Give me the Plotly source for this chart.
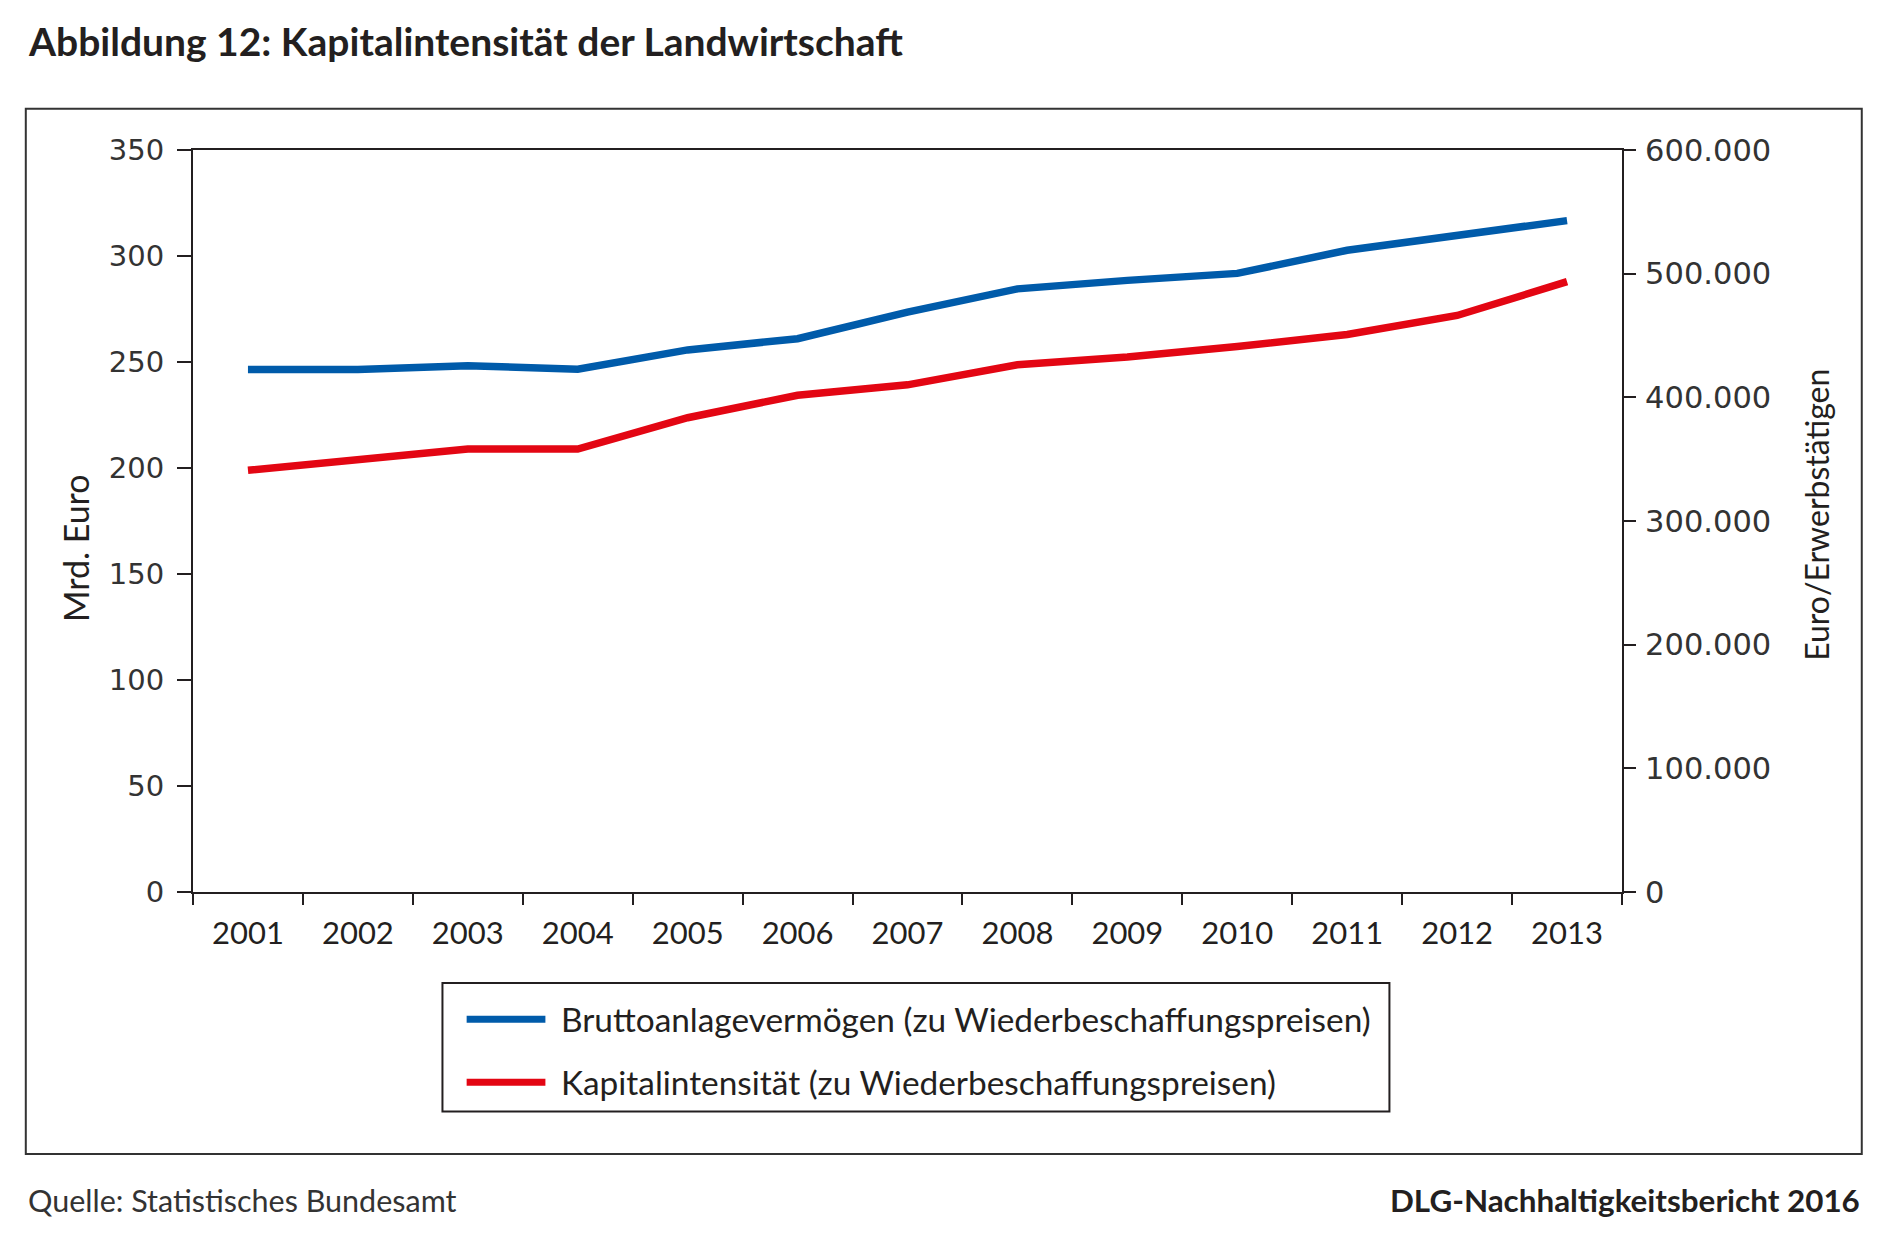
import plotly.graph_objects as go

# ---- data ----
years = ["2001", "2002", "2003", "2004", "2005", "2006", "2007",
         "2008", "2009", "2010", "2011", "2012", "2013"]
brutto_mrd = [246.5, 246.5, 248.2, 246.6, 255.7, 261.0, 273.5,
              284.5, 288.5, 291.8, 302.7, 309.7, 316.7]
kapital_euro = [341000, 349300, 358200, 358200, 383500, 401700, 410100,
                426400, 432700, 441100, 450800, 466200, 493500]
left_ticks = [0, 50, 100, 150, 200, 250, 300, 350]
right_ticks = [0, 100000, 200000, 300000, 400000, 500000, 600000]
series_names = ["Bruttoanlagevermögen (zu Wiederbeschaffungspreisen)",
                "Kapitalintensität (zu Wiederbeschaffungspreisen)"]

BLUE = "#005BAA"
RED = "#E30613"
INK = "#231F20"

OFF = 8  # default page body margin
W, H = 1900 - 2 * OFF, 1238 - 2 * OFF
# plot area in page pixels
L, R, T, B = 192.7 - OFF, 1622.5 - OFF, 150.3 - OFF, 891.8 - OFF


def px(x):
    return (x - OFF - L) / (R - L)


def py(y):
    return (B - (y - OFF)) / (B - T)


fig = go.Figure()
fig.add_trace(go.Scatter(x=years, y=brutto_mrd, mode="lines", name=series_names[0],
                         line=dict(color=BLUE, width=7.5), yaxis="y"))
fig.add_trace(go.Scatter(x=years, y=kapital_euro, mode="lines", name=series_names[1],
                         line=dict(color=RED, width=7.5), yaxis="y2"))

fig.update_layout(
    width=W, height=H,
    margin=dict(l=L, r=W - R, t=T, b=H - B, pad=0),
    paper_bgcolor="white", plot_bgcolor="white",
    showlegend=False,
    separators=",.",
    xaxis=dict(type="category", tickson="boundaries", ticks="outside", ticklen=11,
               tickwidth=1.5, tickcolor=INK, showline=True, linecolor=INK, linewidth=2,
               mirror=True, showgrid=False, zeroline=False, range=[-0.5, 12.5],
               tickfont=dict(family="Lato", size=31, color=INK), ticklabelstandoff=13),
    yaxis=dict(range=[0, 350], tickvals=left_ticks, ticks="outside", ticklen=14,
               tickwidth=1.5, tickcolor=INK, showline=True, linecolor=INK, linewidth=2,
               showgrid=False, zeroline=False,
               tickfont=dict(family="DejaVu Sans", size=29, color="#333333"),
               ticklabelstandoff=7),
    yaxis2=dict(range=[0, 600000], tickvals=right_ticks, tickformat=",d", overlaying="y",
                side="right", ticks="outside", ticklen=12, tickwidth=1.5, tickcolor=INK,
                showline=True, linecolor=INK, linewidth=2, showgrid=False, zeroline=False,
                tickfont=dict(family="DejaVu Sans", size=30.5, color="#333333"),
                ticklabelstandoff=3),
)

shapes = [
    # outer frame
    dict(type="rect", xref="paper", yref="paper", x0=px(25.4), x1=px(1862.4),
         y0=py(1153.5), y1=py(109), line=dict(color="#333333", width=2), layer="below"),
    # legend box
    dict(type="rect", xref="paper", yref="paper", x0=px(442.3), x1=px(1389.8),
         y0=py(1111.1), y1=py(982.7), line=dict(color=INK, width=2)),
    dict(type="line", xref="paper", yref="paper", x0=px(466.5), x1=px(545.3),
         y0=py(1019), y1=py(1019), line=dict(color=BLUE, width=7)),
    dict(type="line", xref="paper", yref="paper", x0=px(466.5), x1=px(545.3),
         y0=py(1082), y1=py(1082), line=dict(color=RED, width=7)),
]

annotations = [
    dict(text="Abbildung 12: Kapitalintensität der Landwirtschaft", x=px(25.4), y=py(41),
         xanchor="left", yanchor="middle",
         font=dict(family="Lato", size=39, color=INK, weight="bold")),
    dict(text=series_names[0], x=px(558.6), y=py(1019), xanchor="left", yanchor="middle",
         font=dict(family="Lato", size=33.4, color=INK)),
    dict(text=series_names[1], x=px(558.6), y=py(1082), xanchor="left", yanchor="middle",
         font=dict(family="Lato", size=33.4, color=INK)),
    dict(text="Mrd. Euro", x=px(75), y=py(547.7), textangle=-90, xanchor="center",
         yanchor="middle", font=dict(family="Lato", size=34, color=INK)),
    dict(text="Euro/Erwerbstätigen", x=px(1817.5), y=py(515), textangle=-90,
         xanchor="center", yanchor="middle", font=dict(family="Lato", size=32, color=INK)),
    dict(text="Quelle: Statistisches Bundesamt", x=px(25.4), y=py(1199.6), xanchor="left",
         yanchor="middle", font=dict(family="Lato", size=30.5, color="#333333")),
    dict(text="DLG-Nachhaltigkeitsbericht 2016", x=px(1862.4), y=py(1199.6),
         xanchor="right", yanchor="middle",
         font=dict(family="Lato", size=31.4, color=INK, weight="bold")),
]
for a in annotations:
    a.update(xref="paper", yref="paper", showarrow=False)

fig.update_layout(shapes=shapes, annotations=annotations)
fig.write_html("out.html")
